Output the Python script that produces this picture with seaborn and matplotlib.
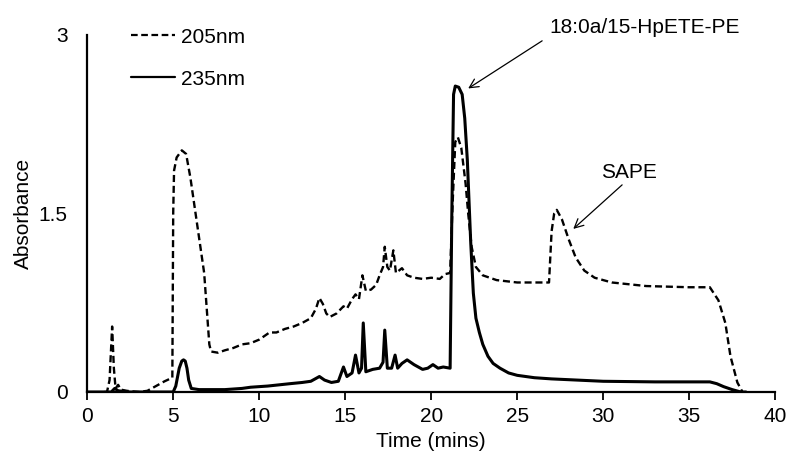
import numpy as np
import pandas as pd
import matplotlib
matplotlib.use("Agg")
import matplotlib.pyplot as plt
import seaborn as sns

# 205 nm trace (dashed)
t_205 = [1.0, 1.15, 1.3, 1.45, 1.55, 1.65, 1.8, 1.95, 2.3, 3.0, 3.5, 4.0, 4.5, 4.95,
         5.0, 5.05, 5.2, 5.5, 5.75, 6.0, 6.2, 6.5, 6.7, 6.8, 6.95, 7.1, 7.2, 7.6,
         8.0, 8.5, 9.0, 9.5, 10.0, 10.6, 11.0, 11.5, 12.0, 12.5, 13.0, 13.3, 13.5,
         13.7, 13.9, 14.1, 14.5, 14.9, 15.1, 15.4, 15.6, 15.8, 16.0, 16.2, 16.5,
         16.8, 17.0, 17.2, 17.3, 17.45, 17.6, 17.8, 17.95, 18.3, 18.6, 19.0, 19.5,
         20.0, 20.5, 20.8, 21.1, 21.25, 21.4, 21.55, 21.75, 22.0, 22.15, 22.35,
         22.6, 23.0, 23.8, 25.0, 26.0, 26.85, 27.0, 27.15, 27.3, 27.6, 28.0, 28.4,
         28.9, 29.5, 30.5, 32.5, 35.0, 36.2, 36.7, 37.1, 37.4, 37.8, 38.1]
a_205 = [0.0, 0.0, 0.1, 0.55, 0.2, 0.03, 0.06, 0.02, 0.01, 0.0, 0.01, 0.05, 0.09, 0.12,
         1.5, 1.86, 1.97, 2.03, 2.0, 1.8, 1.6, 1.3, 1.1, 1.0, 0.7, 0.4, 0.34, 0.33,
         0.35, 0.37, 0.40, 0.41, 0.44, 0.50, 0.50, 0.53, 0.55, 0.58, 0.62, 0.70, 0.79,
         0.74, 0.66, 0.63, 0.66, 0.72, 0.70, 0.78, 0.82, 0.78, 0.98, 0.85, 0.86,
         0.90, 0.98, 1.05, 1.22, 1.05, 1.02, 1.19, 1.0, 1.04, 0.98, 0.96, 0.95,
         0.96, 0.95, 0.99, 1.0, 1.6, 2.1, 2.14, 2.05, 1.75, 1.5, 1.22,
         1.05, 0.98, 0.94, 0.92, 0.92, 0.92, 1.35, 1.5, 1.53, 1.45, 1.28, 1.13,
         1.02, 0.96, 0.92, 0.89, 0.88, 0.88, 0.77, 0.58, 0.30, 0.08, 0.0]

# 235 nm trace (solid)
t_235 = [0.0, 1.4, 1.6, 1.8, 2.5, 4.0, 5.0, 5.15, 5.35, 5.5, 5.6, 5.7, 5.8, 5.9, 6.05,
         6.5, 8.0, 9.0, 9.5, 10.5, 11.8, 12.5, 13.0, 13.5, 13.8, 14.2, 14.6, 14.9,
         15.1, 15.4, 15.6, 15.8, 15.95, 16.05, 16.2, 16.6, 17.0, 17.2, 17.3, 17.45,
         17.7, 17.9, 18.05, 18.3, 18.6, 19.0, 19.5, 19.8, 20.1, 20.4, 20.7, 21.1,
         21.2, 21.3, 21.4, 21.6, 21.8, 21.95, 22.1, 22.3, 22.45, 22.6, 22.8, 23.0,
         23.3, 23.6, 24.0, 24.5, 25.0, 26.0, 27.0, 30.0, 33.0, 36.2, 36.6, 37.0,
         37.5, 38.0, 38.3]
a_235 = [0.0, 0.0, 0.03, 0.01, 0.0, 0.0, 0.0, 0.05, 0.2, 0.26, 0.27, 0.26, 0.2, 0.1,
         0.03, 0.02, 0.02, 0.03, 0.04, 0.05, 0.07, 0.08, 0.09, 0.13, 0.10, 0.08,
         0.09, 0.21, 0.13, 0.16, 0.31, 0.16, 0.20, 0.58, 0.17, 0.19, 0.20, 0.25,
         0.52, 0.20, 0.20, 0.31, 0.20, 0.24, 0.27, 0.23, 0.19, 0.20, 0.23, 0.20,
         0.21, 0.20, 1.5, 2.5, 2.57, 2.56, 2.5, 2.3, 1.95, 1.25, 0.83, 0.62, 0.50,
         0.40, 0.30, 0.24, 0.20, 0.16, 0.14, 0.12, 0.11, 0.09, 0.085, 0.085, 0.07,
         0.045, 0.02, 0.0, 0.0]

x_ticks = [0, 5, 10, 15, 20, 25, 30, 35, 40]
y_ticks = [0, 1.5, 3]
y_tick_labels = ["0", "1.5", "3"]

sns.set_style("ticks")
plt.rcParams["font.family"] = ["Liberation Sans", "DejaVu Sans"]
plt.rcParams["font.size"] = 15
plt.rcParams["text.color"] = "black"
plt.rcParams["axes.labelcolor"] = "black"
plt.rcParams["xtick.color"] = "black"
plt.rcParams["ytick.color"] = "black"
plt.rcParams["axes.edgecolor"] = "black"

fig = plt.figure(figsize=(8, 4.65), dpi=100)
ax = fig.add_axes([0.109, 0.157, 0.86, 0.768])

d205 = pd.DataFrame({"Time": t_205, "Abs": a_205})
d235 = pd.DataFrame({"Time": t_235, "Abs": a_235})

sns.lineplot(data=d205, x="Time", y="Abs", ax=ax, color="black", lw=1.7,
             linestyle=(0, (3, 1.6)), sort=False, estimator=None, label="205nm")
sns.lineplot(data=d235, x="Time", y="Abs", ax=ax, color="black", lw=2.2,
             sort=False, estimator=None, label="235nm")

ax.set_xlim(0, 40)
ax.set_ylim(0, 3)
ax.set_xticks(x_ticks)
ax.set_yticks(y_ticks)
ax.set_yticklabels(y_tick_labels)
ax.tick_params(axis="x", length=6, width=1.3, direction="out", pad=5, labelsize=15)
ax.tick_params(axis="y", length=0, pad=14, labelsize=15)
for s in ["top", "right"]:
    ax.spines[s].set_visible(False)
for s in ["left", "bottom"]:
    ax.spines[s].set_linewidth(1.6)

ax.set_xlabel("Time (mins)", labelpad=4, fontsize=15)
ax.set_ylabel("Absorbance", labelpad=4, fontsize=15)

leg = ax.legend(loc="upper left", bbox_to_anchor=(0.064, 1.02), frameon=False,
                handlelength=2.1, labelspacing=1.1, borderpad=0, borderaxespad=0,
                handletextpad=0.3, fontsize=15)
for line in leg.get_lines():
    line.set_linewidth(1.6)

# annotations
ax.text(32.4, 3.06, "18:0a/15-HpETE-PE", ha="center", va="center", clip_on=False)
ax.annotate("", xy=(22.15, 2.55), xytext=(26.45, 2.95), annotation_clip=False,
            arrowprops=dict(arrowstyle="->", lw=0.9, color="black",
                            mutation_scale=16, shrinkA=0, shrinkB=0))
ax.text(31.5, 1.84, "SAPE", ha="center", va="center")
ax.annotate("", xy=(28.26, 1.37), xytext=(31.1, 1.74),
            arrowprops=dict(arrowstyle="->", lw=0.9, color="black",
                            mutation_scale=16, shrinkA=0, shrinkB=0))

fig.savefig("out.png", dpi=100)
